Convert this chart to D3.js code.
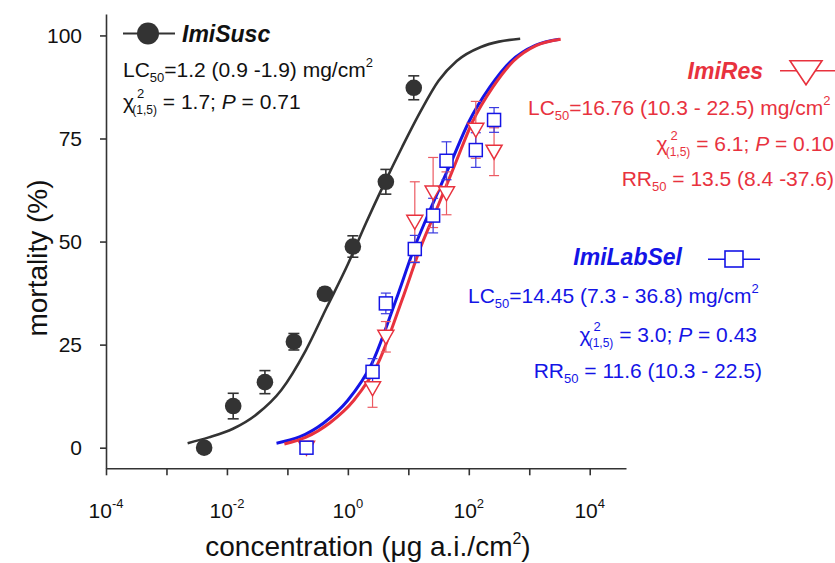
<!DOCTYPE html>
<html><head><meta charset="utf-8">
<script src="https://cdn.jsdelivr.net/npm/d3@7"></script>
<style>
body{margin:0;background:#fff}
svg{display:block}
text{font-family:"Liberation Sans",Arial,Helvetica,sans-serif}
</style>
</head><body>
<svg id="chart" width="835" height="563"></svg>
<script>
// ---------- data ----------
const tickExponents = [-4,-3,-2,-1,0,1,2,3,4];
const labelExponents = [-4,-2,0,2,4];
const yTicks = [0,25,50,75,100];

// ImiSusc observed (concentration, mortality %, error)
const suscConc = [0.0042, 0.0127, 0.0425, 0.128, 0.417, 1.21, 4.25, 12.3];
const suscMort = [0, 10.1, 15.9, 25.7, 37.3, 48.8, 64.5, 87.3];
const suscErr  = [0, 3.1, 2.8, 2.0, 1.5, 2.6, 3.0, 2.9];

// ImiLabSel & ImiRes observed
const selConc    = [0.207, 2.56, 4.25, 12.8, 25.7, 42.8, 130.6, 261.8];
const labSelMort = [0, 18.4, 35.0, 48.2, 56.3, 69.6, 72.2, 79.5];
const labSelErr  = [0, 3.2, 2.5, 3.3, 4.2, 4.6, 4.2, 3.0];
const resMort    = [0, 14.4, 26.9, 54.8, 61.9, 61.7, 77.1, 71.8];
const resErr     = [0, 4.6, 3.7, 9.7, 8.5, 5.2, 6.9, 5.8];

// fitted curves (log10 concentration, mortality %)
const suscCurveLog  = [-2.65,-2.3,-1.9,-1.5,-1.1,-0.7,-0.35,0.0,0.3,0.6,0.9,1.2,1.5,1.8,2.2,2.5,2.85];
const suscCurveMort = [1.1,2.5,4.6,8.2,14.0,23.5,34.0,44.5,54.5,64.0,73.0,81.5,89.0,93.8,97.2,98.5,99.2];
const labSelCurveLog  = [-1.18,-0.8,-0.4,0.0,0.4,0.8,1.1,1.4,1.7,2.0,2.35,2.7,3.1,3.5];
const labSelCurveMort = [1.1,2.6,6.0,11.5,20.5,36.0,48.5,59.0,69.0,79.0,87.5,93.8,97.6,99.1];
const resCurveLog  = [-1.05,-0.7,-0.3,0.1,0.5,0.9,1.2,1.5,1.78,2.06,2.4,2.74,3.12,3.52];
const resCurveMort = [0.9,2.5,6.0,11.5,20.5,36.0,48.5,59.0,69.0,79.0,87.5,93.8,97.6,99.1];

// ---------- colours ----------
const cBlack = "#333333", cBlue = "#1414e6", cRed = "#e8323e";
const cBlueLight = "#3a3ae0", cRedLight = "#ec5a62";

// ---------- scales ----------
const svg = d3.select("#chart");
const x = d3.scaleLog().domain([1e-4, Math.pow(10,4.6)]).range([106,626]);
const y = d3.scaleLinear().domain([-5,105.2]).range([468.3,14]);

// ---------- axes ----------
const yAxis = d3.axisLeft(y).tickValues(yTicks).tickSize(6).tickSizeOuter(0).tickPadding(18);
const gy = svg.append("g").attr("transform","translate(106,0)").call(yAxis);
gy.selectAll("text").style("font-size","21px").attr("fill","#111");

const xAxis = d3.axisBottom(x).tickValues(tickExponents.map(e=>Math.pow(10,e))).tickSize(7).tickSizeOuter(0).tickFormat("");
const gx = svg.append("g").attr("transform","translate(0,468.3)").call(xAxis);
[gx,gy].forEach(g=>{
  g.select(".domain").attr("stroke",cBlack).attr("stroke-width",1.6);
  g.selectAll(".tick line").attr("stroke",cBlack).attr("stroke-width",1.6);
});
labelExponents.forEach(e=>{
  const t = svg.append("text").attr("x",x(Math.pow(10,e))).attr("y",518)
    .attr("text-anchor","middle").style("font-size","21px").attr("fill","#111");
  t.append("tspan").text("10");
  t.append("tspan").text(String(e)).style("font-size","13px").attr("dy",-10);
});

// axis titles
svg.append("text").attr("transform","translate(47,258) rotate(-90)").attr("text-anchor","middle")
  .style("font-size","28px").attr("fill","#111").text("mortality (%)");
const xt = svg.append("text").attr("x",368).attr("y",556).attr("text-anchor","middle")
  .style("font-size","28px").attr("fill","#111");
xt.append("tspan").text("concentration (\u03BCg a.i./cm");
xt.append("tspan").text("2").style("font-size","16px").attr("dy",-12);
xt.append("tspan").text(")").attr("dy",12);

// ---------- curves ----------
const line = d3.line().x(d=>x(Math.pow(10,d[0]))).y(d=>y(d[1])).curve(d3.curveMonotoneX);
svg.append("path").datum(d3.zip(suscCurveLog,suscCurveMort)).attr("d",line)
  .attr("fill","none").attr("stroke",cBlack).attr("stroke-width",2.6);
svg.append("path").datum(d3.zip(labSelCurveLog,labSelCurveMort)).attr("d",line)
  .attr("fill","none").attr("stroke",cBlue).attr("stroke-width",3);
svg.append("path").datum(d3.zip(resCurveLog,resCurveMort)).attr("d",line)
  .attr("fill","none").attr("stroke",cRed).attr("stroke-width",3);

// ---------- error bars ----------
function errBars(conc, mort, err, color, width, capW){
  const g = svg.append("g").attr("stroke",color).attr("stroke-width",width);
  conc.forEach((c,i)=>{
    if(!err[i]) return;
    const cx = x(c), y1 = y(mort[i]-err[i]), y2 = y(mort[i]+err[i]);
    g.append("line").attr("x1",cx).attr("x2",cx).attr("y1",y1).attr("y2",y2);
    g.append("line").attr("x1",cx-capW/2).attr("x2",cx+capW/2).attr("y1",y1).attr("y2",y1);
    g.append("line").attr("x1",cx-capW/2).attr("x2",cx+capW/2).attr("y1",y2).attr("y2",y2);
  });
}
errBars(suscConc,suscMort,suscErr,cBlack,1.6,11);
errBars(selConc,resMort,resErr,cRedLight,1.2,10);
errBars(selConc,labSelMort,labSelErr,cBlueLight,1.2,10);

// ---------- markers ----------
const triPath = "M-8,-6.5L8,-6.5L0,7.5Z";
svg.append("g").selectAll("path").data(d3.zip(selConc,resMort)).join("path")
  .attr("d",triPath).attr("transform",d=>`translate(${x(d[0])},${y(d[1])})`)
  .attr("fill","#fff").attr("stroke",cRed).attr("stroke-width",1.5);
svg.append("g").selectAll("rect").data(d3.zip(selConc,labSelMort)).join("rect")
  .attr("x",d=>x(d[0])-6.5).attr("y",d=>y(d[1])-6.5).attr("width",13).attr("height",13)
  .attr("fill","#fff").attr("stroke",cBlue).attr("stroke-width",1.5);
svg.append("g").selectAll("circle").data(d3.zip(suscConc,suscMort)).join("circle")
  .attr("cx",d=>x(d[0])).attr("cy",d=>y(d[1])).attr("r",8.3).attr("fill",cBlack);

// ---------- legends / annotations ----------
function lcLine(xp, yp, anchor, color, txt){
  const t = svg.append("text").attr("x",xp).attr("y",yp).attr("text-anchor",anchor)
    .attr("fill",color).style("font-size","21px");
  t.append("tspan").text("LC");
  t.append("tspan").text("50").style("font-size","13px").attr("dy",5);
  t.append("tspan").text(txt).attr("dy",-5);
  t.append("tspan").text("2").style("font-size","13px").attr("dy",-10);
}
function chiLine(xp, yp, anchor, color, stat, p){
  const t = svg.append("text").attr("x",xp).attr("y",yp).attr("text-anchor",anchor)
    .attr("fill",color).style("font-size","21px");
  t.append("tspan").text("\u03C7");
  t.append("tspan").text("2").style("font-size","13px").attr("dy",-11).attr("dx",3);
  t.append("tspan").text("(1,5)").style("font-size","12px").attr("dx",-12).attr("dy",16);
  t.append("tspan").text(" = " + stat + "; ").attr("dy",-5);
  t.append("tspan").text("P").style("font-style","italic");
  t.append("tspan").text(" = " + p);
}
function rrLine(xp, yp, anchor, color, txt){
  const t = svg.append("text").attr("x",xp).attr("y",yp).attr("text-anchor",anchor)
    .attr("fill",color).style("font-size","21px");
  t.append("tspan").text("RR");
  t.append("tspan").text("50").style("font-size","13px").attr("dy",5);
  t.append("tspan").text(txt).attr("dy",-5);
}

// ImiSusc
svg.append("line").attr("x1",123).attr("x2",175).attr("y1",33.5).attr("y2",33.5).attr("stroke",cBlack).attr("stroke-width",2);
svg.append("circle").attr("cx",148).attr("cy",33.5).attr("r",11).attr("fill",cBlack);
svg.append("text").attr("x",182).attr("y",42).style("font-size","23px").style("font-weight","bold")
  .style("font-style","italic").attr("fill","#111").text("ImiSusc");
lcLine(123,77,"start","#111","=1.2 (0.9 -1.9) mg/cm");
chiLine(123,109,"start","#111","1.7","0.71");

// ImiRes
svg.append("line").attr("x1",780).attr("x2",835).attr("y1",70.7).attr("y2",70.7).attr("stroke",cRed).attr("stroke-width",1.5);
svg.append("path").attr("d","M-16,-10L16,-10L0,14Z").attr("transform","translate(806,70.7)")
  .attr("fill","#fff").attr("stroke",cRed).attr("stroke-width",1.6);
svg.append("text").attr("x",763).attr("y",79).attr("text-anchor","end").style("font-size","23px")
  .style("font-weight","bold").style("font-style","italic").attr("fill",cRed).text("ImiRes");
lcLine(528,115,"start",cRed,"=16.76 (10.3 - 22.5) mg/cm");
chiLine(834,151,"end",cRed,"6.1","0.10");
rrLine(834,186,"end",cRed," = 13.5 (8.4 -37.6)");

// ImiLabSel
svg.append("line").attr("x1",708).attr("x2",760).attr("y1",259.3).attr("y2",259.3).attr("stroke",cBlue).attr("stroke-width",1.5);
svg.append("rect").attr("x",725).attr("y",251).attr("width",18).attr("height",16)
  .attr("fill","#fff").attr("stroke",cBlue).attr("stroke-width",1.6);
svg.append("text").attr("x",682).attr("y",265).attr("text-anchor","end").style("font-size","23px")
  .style("font-weight","bold").style("font-style","italic").attr("fill",cBlue).text("ImiLabSel");
lcLine(468,303,"start",cBlue,"=14.45 (7.3 - 36.8) mg/cm");
chiLine(757,342,"end",cBlue,"3.0","0.43");
rrLine(762,378,"end",cBlue," = 11.6 (10.3 - 22.5)");
</script>
</body></html>
